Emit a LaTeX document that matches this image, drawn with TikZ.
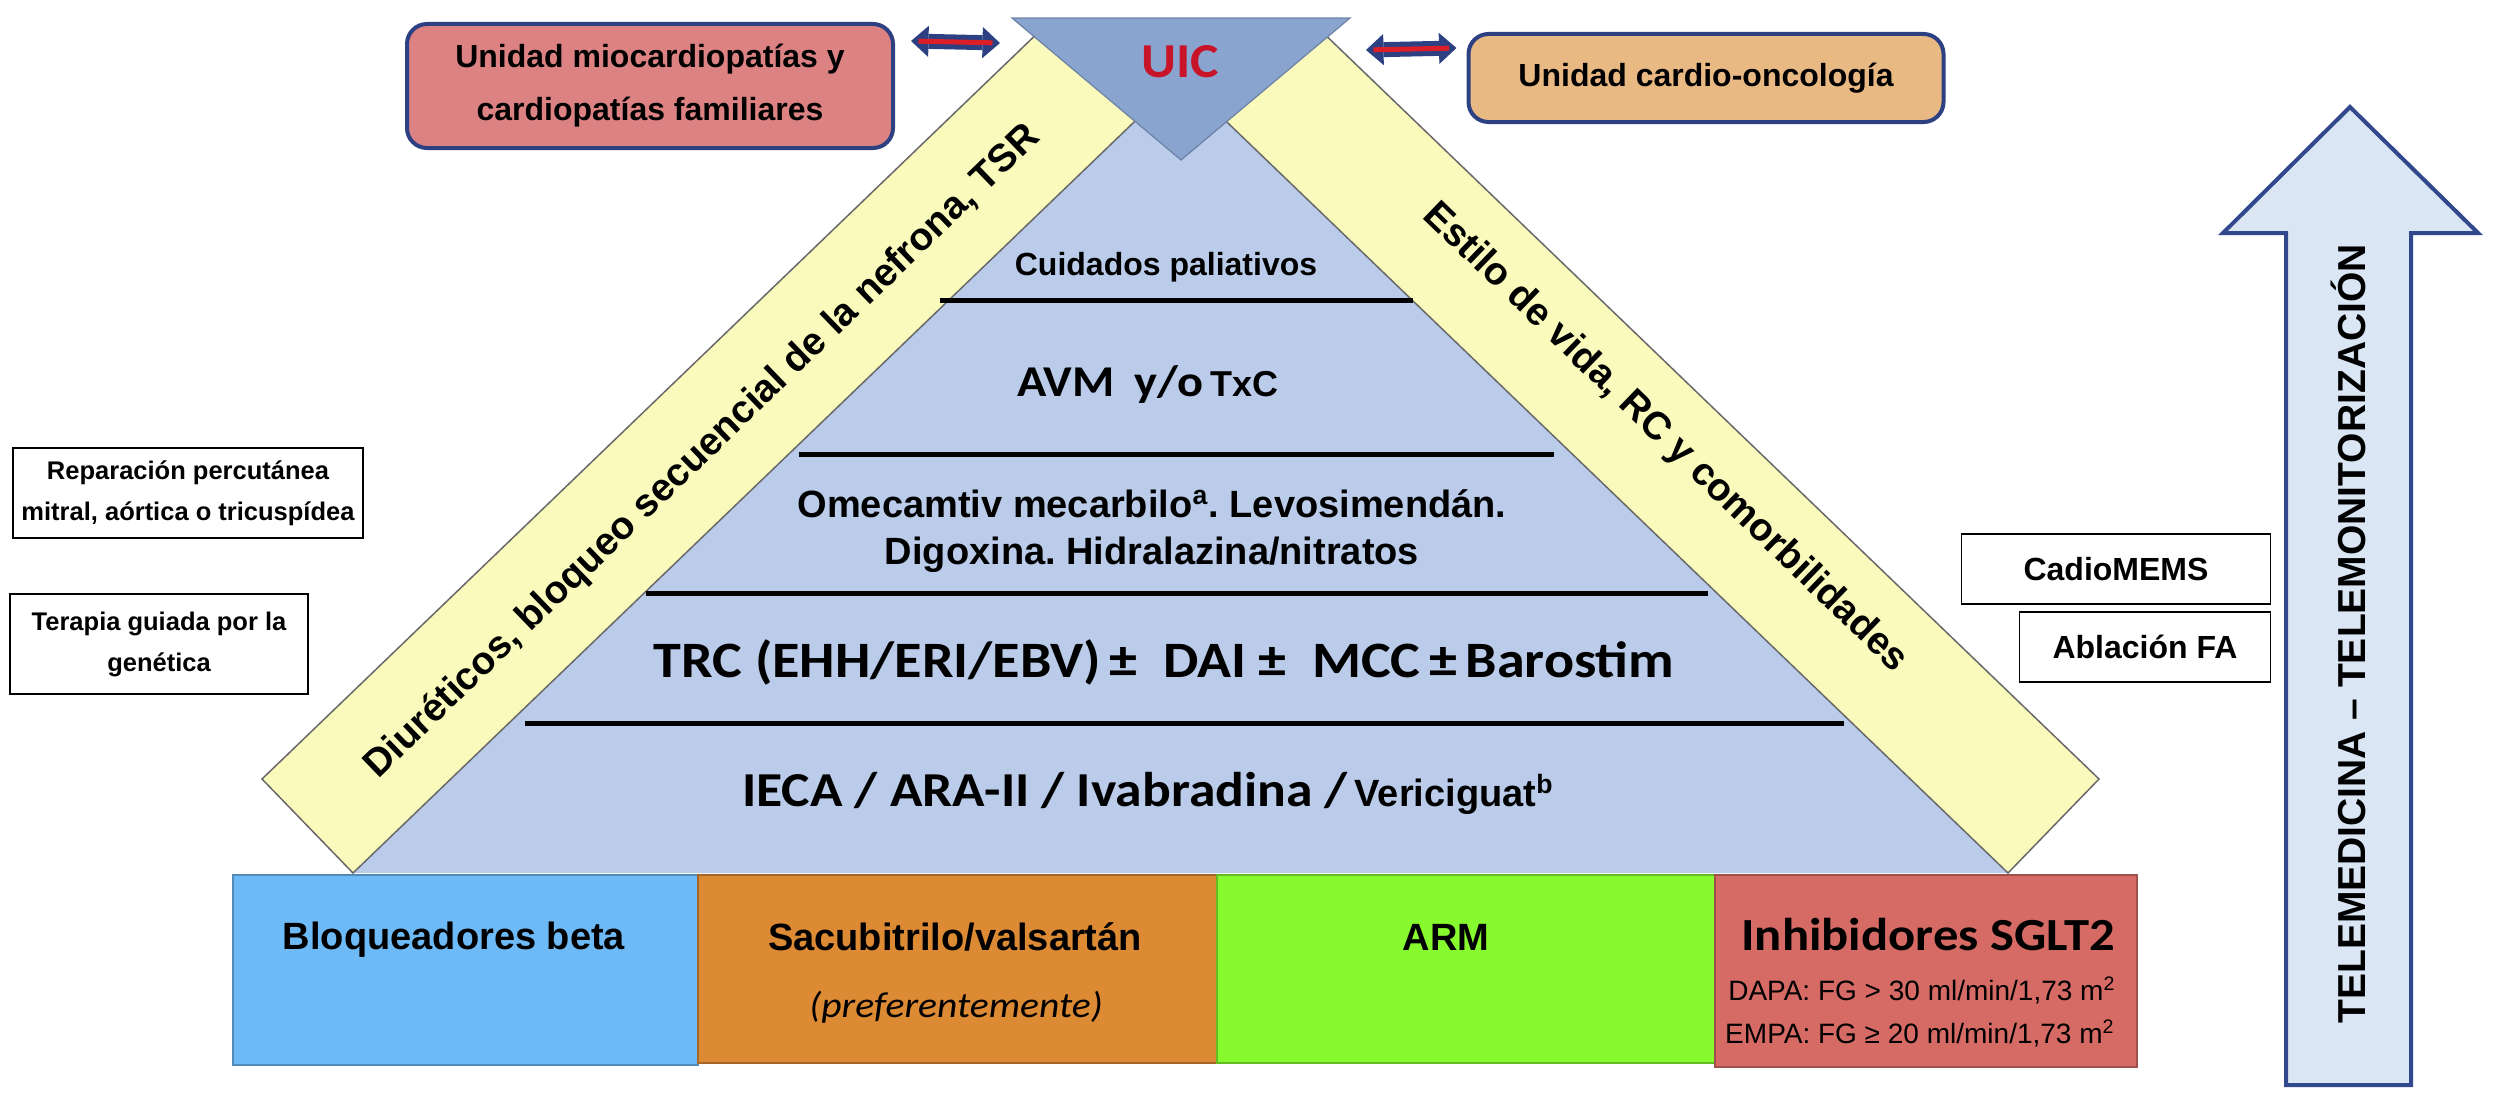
\documentclass[tikz,border=0pt]{standalone}
\usepackage{fontspec}
\setmainfont{Liberation Sans}
\newfontfamily\calfont[FakeStretch=1.1]{Carlito}
\usetikzlibrary{arrows.meta}
\frenchspacing

\definecolor{pyrblue}{RGB}{186,204,234}
\definecolor{bandyellow}{RGB}{250,250,188}
\definecolor{bandedge}{RGB}{105,105,105}
\definecolor{uicblue}{RGB}{138,164,208}
\definecolor{uicred}{RGB}{200,20,40}
\definecolor{pinkbox}{RGB}{221,130,131}
\definecolor{tanbox}{RGB}{233,185,132}
\definecolor{boxborder}{RGB}{45,65,130}
\definecolor{arrowred}{RGB}{220,30,40}
\definecolor{bbblue}{RGB}{110,186,246}
\definecolor{bborange}{RGB}{220,138,52}
\definecolor{bbgreen}{RGB}{134,250,46}
\definecolor{bbred}{RGB}{214,106,100}
\definecolor{telefill}{RGB}{219,230,244}
\definecolor{teleedge}{RGB}{50,72,140}

\begin{document}
\begin{tikzpicture}[
    x=0.4pt, y=-0.4pt,
    unitbox/.style={
      draw=boxborder, line width=1.6pt, rounded corners=8pt,
      align=center, inner sep=0pt,
      font=\fontsize{12.8pt}{21.2pt}\selectfont\bfseries
    },
    sidebox/.style={
      draw=black, line width=0.6pt, align=center, inner sep=0pt,
      font=\fontsize{10.2pt}{16.4pt}\selectfont\bfseries
    },
    dblarrow/.style={
      draw=boxborder, line width=6pt,
      {Triangle[length=7pt,width=12.5pt,line width=0pt]}-{Triangle[length=7pt,width=12.5pt,line width=0pt]}
    },
    arrowcore/.style={
      draw=arrowred, line width=2pt, shorten <=3pt, shorten >=3pt
    },
    band/.style={
      fill=bandyellow, draw=bandedge, line width=0.6pt
    },
    bandtext/.style={
      inner sep=0pt, font=\fontsize{15.5pt}{18pt}\selectfont\bfseries
    },
    tierline/.style={
      draw=black, line width=2pt
    },
    tiertext/.style={
      inner sep=0pt, align=center
    },
    basebox/.style={
      draw=#1!75!black, fill=#1, line width=0.6pt, inner sep=0pt
    },
    basetext/.style={
      inner sep=0pt, font=\fontsize{15.2pt}{18pt}\selectfont\bfseries
    },
    telearrow/.style={
      draw=teleedge, fill=telefill, line width=1.6pt
    }
  ]
    \useasboundingbox (0,0) rectangle (2500,1093);

    % pyramid
    \fill[pyrblue] (353,873) -- (1180.5,77.3) -- (2008,873) -- cycle;

    % side bands
    \draw[band] (353,873) -- (262,779) -- (1046,25) -- (1157,100) -- cycle;
    \draw[band] (2008,873) -- (2099,779) -- (1315,25) -- (1204,100) -- cycle;

    % tiers
    \draw[tierline] (940,300) -- (1413,300);
    \draw[tierline] (799,454) -- (1554,454);
    \draw[tierline] (646,593) -- (1708,593);
    \draw[tierline] (525,723) -- (1844,723);

    \node[tiertext, font=\fontsize{12.8pt}{15pt}\selectfont\bfseries] (palliative) at (1166,267) {Cuidados paliativos};
    \node[tiertext] (avm) at (1148,385)
      {{\calfont\fontsize{17.6pt}{20pt}\selectfont\bfseries AVM\hspace{8pt}y/o}\hspace{3pt}{\fontsize{14.4pt}{17pt}\selectfont\bfseries TxC}};
    \node[tiertext, font=\fontsize{15.2pt}{18.8pt}\selectfont\bfseries] (omecamtiv) at (1152,531)
      {Omecamtiv mecarbilo\textsuperscript{a}. Levosimendán.\\Digoxina. Hidralazina/nitratos};
    \node[tiertext, font=\calfont\fontsize{20.4pt}{24pt}\selectfont\bfseries] (trc) at (1164,662)
      {TRC (EHH/ERI/EBV)\,±\ \ DAI ±\ \ MCC\,±\,Barostim};
    \node[tiertext] (ieca) at (1148,793)
      {{\calfont\fontsize{19.5pt}{23pt}\selectfont\bfseries IECA / ARA-II / Ivabradina /} {\fontsize{15.2pt}{18pt}\selectfont\bfseries Vericiguat\textsuperscript{b}}};

    % UIC
    \draw[fill=uicblue, draw=uicblue!80!black, line width=0.5pt] (1012,18) -- (1350,18) -- (1181,160) -- cycle;
    \node[inner sep=0pt, text=uicred, font=\calfont\fontsize{19.5pt}{23pt}\selectfont\bfseries] (uic) at (1180,62) {UIC};

    % units linked to UIC
    \node[unitbox, fill=pinkbox, minimum width=194.4pt, minimum height=49.6pt] (cardiomyo) at (650,86)
      {Unidad miocardiopatías y\\cardiopatías familiares};
    \node[unitbox, fill=tanbox, minimum width=190pt, minimum height=35.2pt] (cardioonc) at (1706,78)
      {Unidad cardio-oncología};

    \coordinate (linkLa) at ([shift={(16,19)}]cardiomyo.north east);
    \coordinate (linkLb) at (1000,43);
    \coordinate (linkRa) at (1366,50);
    \coordinate (linkRb) at ([shift={(-10,16)}]cardioonc.north west);
    \draw[dblarrow]  (linkLa) -- (linkLb);
    \draw[arrowcore] (linkLa) -- (linkLb);
    \draw[dblarrow]  (linkRa) -- (linkRb);
    \draw[arrowcore] (linkRa) -- (linkRb);

    % left side boxes
    \node[sidebox, minimum width=140pt, minimum height=36pt] (repair) at (188,493)
      {Reparación percutánea\\mitral, aórtica o tricuspídea};
    \node[sidebox, minimum width=119.2pt, minimum height=40pt] (genetic) at (159,644)
      {Terapia guiada por la\\genética};

    % right side boxes
    \node[sidebox, font=\fontsize{12.8pt}{15pt}\selectfont\bfseries, minimum width=123.6pt, minimum height=28pt] (cardiomems) at (2116,569) {CadioMEMS};
    \node[sidebox, font=\fontsize{12.8pt}{15pt}\selectfont\bfseries, minimum width=100.4pt, minimum height=28pt] (ablation) at (2145,647) {Ablación FA};

    % band labels
    \node[bandtext, rotate=44]  (diuretics) at (703,452) {Diuréticos, bloqueo secuencial de la nefrona, TSR};
    \node[bandtext, rotate=-44] (lifestyle) at (1665,438) {Estilo de vida, RC y comorbilidades};

    % base of the pyramid
    \node[basebox=bbblue,   minimum width=186pt,   minimum height=76pt]   (betablk) at (465.5,970) {};
    \node[basebox=bborange, minimum width=207.6pt, minimum height=75.2pt] (sacval)  at (957.5,969) {};
    \node[basebox=bbgreen,  minimum width=199.2pt, minimum height=75.2pt] (arm)     at (1466,969) {};
    \node[basebox=bbred,    minimum width=168.8pt, minimum height=76.8pt] (sglt)    at (1926,971) {};

    \node[basetext] (betablktext) at (454,940) {Bloqueadores beta};
    \node[basetext] (sacvaltext) at (955,937) {Sacubitrilo/valsartán};
    \node[inner sep=0pt, font=\calfont\fontsize{14.4pt}{17pt}\selectfont\itshape] (sacvalnote) at (956,1007) {(preferentemente)};
    \node[basetext] (armtext) at (1446,937) {ARM};
    \node[inner sep=0pt, font=\calfont\fontsize{18.4pt}{22pt}\selectfont\bfseries] (sglttext) at (1928,935) {Inhibidores SGLT2};
    \node[inner sep=0pt, font=\fontsize{11.2pt}{13pt}\selectfont] (dapa) at (1922,990) {DAPA: FG > 30 ml/min/1,73 m\textsuperscript{2}};
    \node[inner sep=0pt, font=\fontsize{11.2pt}{13pt}\selectfont] (empa) at (1920,1033) {EMPA: FG ≥ 20 ml/min/1,73 m\textsuperscript{2}};

    % telemonitoring arrow
    \draw[telearrow] (2350,107) -- (2478,233) -- (2411,233) -- (2411,1085) -- (2286,1085) -- (2286,233) -- (2223,233) -- cycle;
    \node[inner sep=0pt, rotate=90, font=\fontsize{15.6pt}{18pt}\selectfont\bfseries] (telemed) at (2348,634)
      {TELEMEDICINA – TELEMONITORIZACIÓN};
  \end{tikzpicture}
\end{document}
